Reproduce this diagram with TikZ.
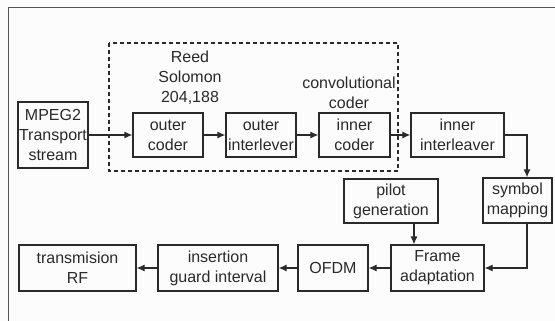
\documentclass[tikz,border=0pt]{standalone}
\usepackage{fontspec}
\setmainfont{Liberation Sans}
\usetikzlibrary{arrows.meta}
\definecolor{ink}{HTML}{2A2A2A}
\definecolor{bg}{HTML}{FCFCFC}
\tikzset{
  blk/.style={draw=ink, line width=1.2pt, inner sep=0pt, align=center, text=ink,
    font=\fontsize{16}{20}\selectfont},
  lbl/.style={inner sep=0pt, align=center, text=ink, font=\fontsize{16}{20}\selectfont},
  arr/.style={draw=ink, line width=1.2pt, -{Latex[length=8pt,width=7pt]}},
}
\begin{document}
\begin{tikzpicture}[x=1pt,y=-1pt]
\fill[bg] (0,0) rectangle (555,321);
\useasboundingbox (0,0) rectangle (555,321);
\draw[draw=ink!80, line width=1.5pt] (8.5,321) -- (8.5,7.5) -- (555,7.5);
\draw[ink, line width=1.2pt, dash pattern=on 4pt off 3pt] (109,43) rectangle (398,171);
\node[lbl] (rs) at (190,78) {Reed\\Solomon\\204,188};
\node[lbl] (cc) at (349,93) {convolutional\\coder};
\node[blk, minimum width=70pt, minimum height=66pt] (mpeg) at (53,135) {MPEG2\\Transport\\stream};
\node[blk, minimum width=70pt, minimum height=44pt] (oc) at (168,135) {outer\\coder};
\node[blk, minimum width=70pt, minimum height=44pt] (oi) at (261,135) {outer\\interlever};
\node[blk, minimum width=71pt, minimum height=44pt] (ic) at (354.5,135) {inner\\coder};
\node[blk, minimum width=93pt, minimum height=44pt] (ii) at (457.5,135) {inner\\interleaver};
\node[blk, minimum width=69pt, minimum height=45pt] (sm) at (517.5,200.5) {symbol\\mapping};
\node[blk, minimum width=94pt, minimum height=44pt] (pg) at (391,201) {pilot\\generation};
\node[blk, minimum width=93pt, minimum height=46pt] (fa) at (437.5,268) {Frame\\adaptation};
\node[blk, minimum width=70pt, minimum height=46pt] (ofdm) at (333,268) {OFDM};
\node[blk, minimum width=120pt, minimum height=46pt] (ig) at (218,268) {insertion\\guard interval};
\node[blk, minimum width=117pt, minimum height=46pt] (rf) at (77.5,268) {transmision\\RF};
\coordinate (c1) at (527,135);
\coordinate (c2) at (527,268);
\coordinate (c3) at (414,0);
\draw[arr] (mpeg) -- (oc);
\draw[arr] (oc) -- (oi);
\draw[arr] (oi) -- (ic);
\draw[arr] (ic) -- (ii);
\draw[arr] (ii.east) -- (c1) -- (c1 |- sm.north);
\draw[arr] (c1 |- sm.south) -- (c2) -- (fa.east);
\draw[arr] (c3 |- pg.south) -- (c3 |- fa.north);
\draw[arr] (fa) -- (ofdm);
\draw[arr] (ofdm) -- (ig);
\draw[arr] (ig) -- (rf);
\end{tikzpicture}
\end{document}
